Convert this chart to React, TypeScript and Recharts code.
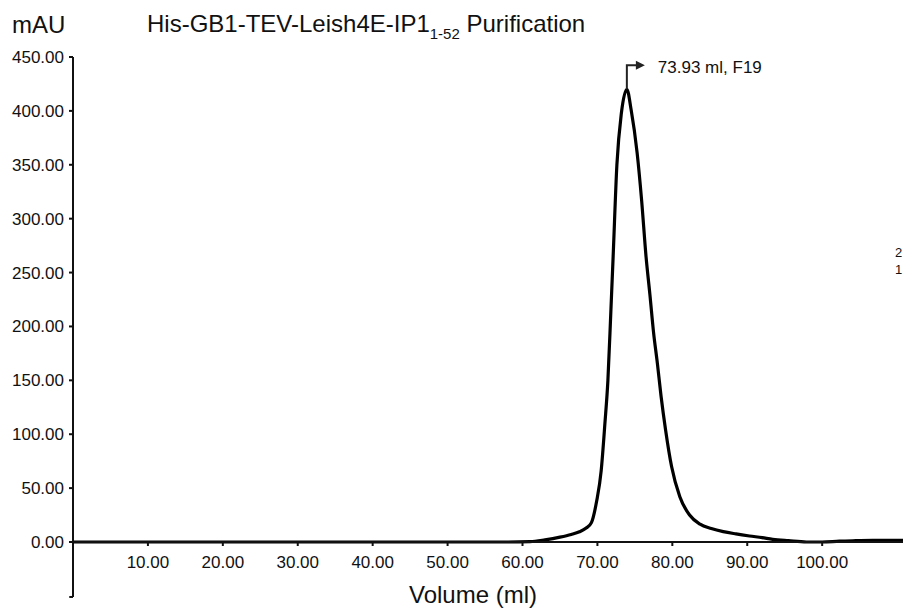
import { Line, LineChart, ReferenceDot, ReferenceLine, XAxis, YAxis } from 'recharts'

// elution volume (ml) and UV absorbance (mAU)
const VOLUME = [
  0, 10, 20, 30, 40, 50, 58, 61, 63, 65, 66.5, 67.6, 68.5, 69.2, 69.9, 70.5, 71.0, 71.4, 71.8,
  72.1, 72.6, 73.2, 73.93, 74.5, 75.3, 75.9, 76.5, 77.0, 77.5, 78.0, 78.5, 79.1, 79.9, 81.0,
  82.3, 83.7, 85.2, 86.8, 88.5, 90.3, 92.0, 93.4, 95.5, 97.9, 100, 102.3, 104.5, 106.8, 110,
  115, 120,
]
const ABSORBANCE = [
  0, 0, 0, 0, 0, 0, 0, 0.3, 2, 4.5, 7, 9.5, 13, 18, 38, 66, 110, 150, 215, 265, 350, 398, 420,
  401, 361, 317, 264, 230, 194, 166, 135, 104, 70, 42, 25, 16.5, 12.5, 9.6, 7.5, 5.6, 4, 2.5,
  1.2, 0, 0, 0.8, 1.2, 1.5, 1.5, 1.5, 1.5,
]

const X_TICKS = [10, 20, 30, 40, 50, 60, 70, 80, 90, 100]
const Y_TICKS = [0, 50, 100, 150, 200, 250, 300, 350, 400, 450]
const X_MAX = 120
const Y_MAX = 450
const Y_AXIS_FLOOR = -51

const PEAK_VOL = 73.93
const PEAK_ABS = 420
const PEAK_LABEL = '73.93 ml, F19'

const FONT = '"Liberation Sans", Arial, sans-serif'

const data = VOLUME.map((v, i) => ({ v, a: ABSORBANCE[i] }))

function PeakMarker(props: any) {
  const { cx, cy } = props
  return (
    <g>
      <path
        d={`M${cx},${cy} V${cy - 24} H${cx + 11}`}
        stroke="#222"
        strokeWidth={2}
        fill="none"
      />
      <path d={`M${cx + 9},${cy - 28.5} L${cx + 18},${cy - 24} L${cx + 9},${cy - 19.5} Z`} fill="#222" />
      <text x={cx + 31} y={cy - 16} fontSize={17} fill="#111" fontFamily={FONT}>
        {PEAK_LABEL}
      </text>
    </g>
  )
}

export default function App() {
  return (
    <div
      style={{
        position: 'absolute',
        left: 0,
        top: 0,
        width: 903,
        height: 609,
        overflow: 'hidden',
        background: '#fff',
        fontFamily: FONT,
      }}
    >
      <LineChart
        width={972}
        height={609}
        data={data}
        margin={{ top: 57, right: 0, bottom: 0, left: 0 }}
      >
        <XAxis
          dataKey="v"
          type="number"
          domain={[0, X_MAX]}
          ticks={X_TICKS}
          tickFormatter={(t) => Number(t).toFixed(2)}
          tick={{ fill: '#111', fontSize: 17, fontFamily: FONT }}
          tickSize={4}
          tickMargin={10}
          tickLine={{ stroke: '#111', strokeWidth: 2 }}
          axisLine={{ stroke: '#111', strokeWidth: 2 }}
          height={67}
          interval={0}
        />
        <YAxis
          type="number"
          domain={[0, Y_MAX]}
          ticks={Y_TICKS}
          tickFormatter={(t) => Number(t).toFixed(2)}
          tick={{ fill: '#111', fontSize: 17, fontFamily: FONT }}
          tickSize={4}
          tickMargin={5}
          tickLine={{ stroke: '#111', strokeWidth: 2 }}
          axisLine={{ stroke: '#111', strokeWidth: 2 }}
          width={73}
          interval={0}
        />
        {/* y axis runs on below the zero line */}
        <ReferenceLine
          segment={[
            { x: 0, y: 0 },
            { x: 0, y: Y_AXIS_FLOOR },
          ]}
          stroke="#111"
          strokeWidth={2}
          ifOverflow="visible"
        />
        <ReferenceLine
          segment={[
            { x: 0, y: Y_AXIS_FLOOR },
            { x: -0.5, y: Y_AXIS_FLOOR },
          ]}
          stroke="#111"
          strokeWidth={2}
          ifOverflow="visible"
        />
        <Line
          type="monotone"
          dataKey="a"
          stroke="#000"
          strokeWidth={3.2}
          dot={false}
          isAnimationActive={false}
        />
        <ReferenceDot x={PEAK_VOL} y={PEAK_ABS} r={0} shape={PeakMarker} />
      </LineChart>
      <svg
        width={903}
        height={609}
        style={{ position: 'absolute', left: 0, top: 0, pointerEvents: 'none' }}
      >
        <text x={12} y={33} fontSize={24} fill="#111" fontFamily={FONT}>
          mAU
        </text>
        <text x={147} y={32} fontSize={24} fill="#111" fontFamily={FONT}>
          His-GB1-TEV-Leish4E-IP1
          <tspan fontSize={15} dy={7}>
            1-52
          </tspan>
          <tspan dy={-7}> Purification</tspan>
        </text>
        <text x={473} y={603} fontSize={24} fill="#111" textAnchor="middle" fontFamily={FONT}>
          Volume (ml)
        </text>
        <text x={895} y={257} fontSize={13} fill="#111" fontFamily={FONT}>
          2
        </text>
        <text x={895} y={274} fontSize={13} fill="#111" fontFamily={FONT}>
          1
        </text>
      </svg>
    </div>
  )
}
